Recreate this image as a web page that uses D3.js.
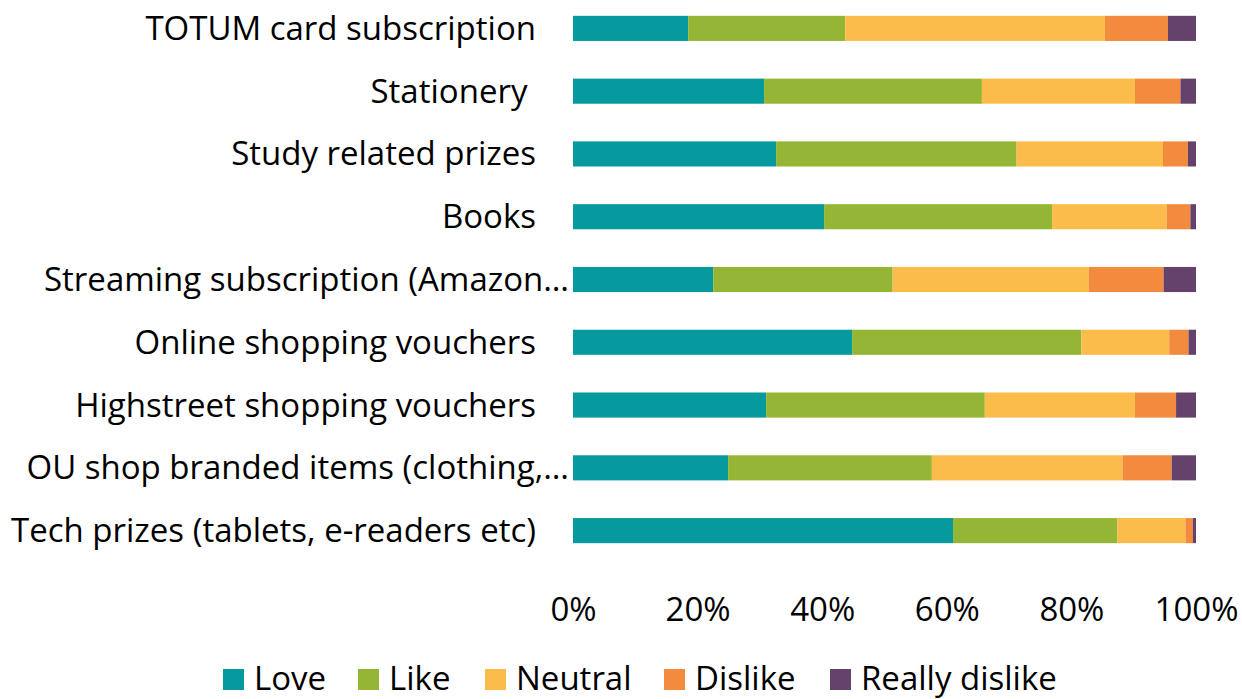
<!DOCTYPE html>
<html>
<head>
<meta charset="utf-8">
<script src="https://cdn.jsdelivr.net/npm/d3@7"></script>
<style>
  html, body { margin: 0; padding: 0; background: #fff; }
  svg text { font-family: "Open Sans", Lato, sans-serif; fill: #000; font-variant-ligatures: none; }
</style>
</head>
<body>
<svg id="chart" width="1242" height="699"></svg>
<script>
const categories = [
  "TOTUM card subscription",
  "Stationery ",
  "Study related prizes",
  "Books",
  "Streaming subscription (Amazon…",
  "Online shopping vouchers",
  "Highstreet shopping vouchers",
  "OU shop branded items (clothing,…",
  "Tech prizes (tablets, e-readers etc)"
];
const seriesNames = ["Love", "Like", "Neutral", "Dislike", "Really dislike"];
const love         = [18.5, 30.7, 32.6, 40.3, 22.5, 44.8, 31.0, 24.9, 61.0];
const like         = [25.2, 35.0, 38.6, 36.6, 28.8, 36.8, 35.1, 32.7, 26.4];
const neutral      = [41.7, 24.6, 23.5, 18.4, 31.5, 14.1, 24.1, 30.6, 10.9];
const dislike      = [10.1,  7.3,  4.0,  3.8, 12.0,  3.1,  6.6,  7.9,  1.2];
const reallyDislike= [ 4.5,  2.5,  1.3,  0.9,  5.2,  1.2,  3.2,  3.9,  0.5];
const tickValues = [0, 0.2, 0.4, 0.6, 0.8, 1.0];
const colors = ["#069a9e", "#95b634", "#fbbc4a", "#f28b3d", "#65426b"];

const seriesValues = [love, like, neutral, dislike, reallyDislike];
const rows = categories.map((c, i) => {
  const r = { category: c };
  const total = seriesValues.reduce((s, arr) => s + arr[i], 0);
  seriesNames.forEach((n, k) => { r[n] = seriesValues[k][i] / total; });
  return r;
});

const svg = d3.select("#chart");
const x = d3.scaleLinear().domain([0, 1]).range([573, 1196]);
const y = d3.scaleBand().domain(categories).range([-3, 562]).paddingInner(0.6).paddingOuter(0.3);

const stack = d3.stack().keys(seriesNames);
const stacked = stack(rows);
const color = d3.scaleOrdinal().domain(seriesNames).range(colors);

svg.append("g").selectAll("g")
  .data(stacked).join("g")
  .attr("fill", d => color(d.key))
  .selectAll("rect")
  .data(d => d).join("rect")
  .attr("x", d => x(d[0]))
  .attr("y", d => y(d.data.category))
  .attr("width", d => x(d[1]) - x(d[0]))
  .attr("height", y.bandwidth());

// category labels
const fs = 33;
svg.append("g").selectAll("text")
  .data(categories).join("text")
  .attr("x", d => d.endsWith("…") ? 569 : 536)
  .attr("y", d => y(d) + y.bandwidth() / 2)
  .attr("dy", "0.35em")
  .attr("text-anchor", "end")
  .style("font-size", fs + "px")
  .style("white-space", "pre")
  .text(d => d);

// x axis
const xAxis = d3.axisBottom(x).tickValues(tickValues).tickFormat(d3.format(".0%")).tickSize(0).tickPadding(0);
const gx = svg.append("g").attr("transform", "translate(0,598)").call(xAxis);
gx.select(".domain").remove();
gx.selectAll("text").style("font-size", fs + "px").attr("dy", "0.71em").attr("y", 0);

// legend
const legendX = [223, 358, 485, 664, 830];
const lg = svg.append("g").selectAll("g")
  .data(seriesNames).join("g")
  .attr("transform", (d, i) => `translate(${legendX[i]},0)`);
lg.append("rect").attr("x", 0).attr("y", 669).attr("width", 21).attr("height", 21).attr("fill", d => color(d));
lg.append("text").attr("x", 31).attr("y", 678).attr("dy", "0.35em")
  .style("font-size", fs + "px").text(d => d);
</script>
</body>
</html>
